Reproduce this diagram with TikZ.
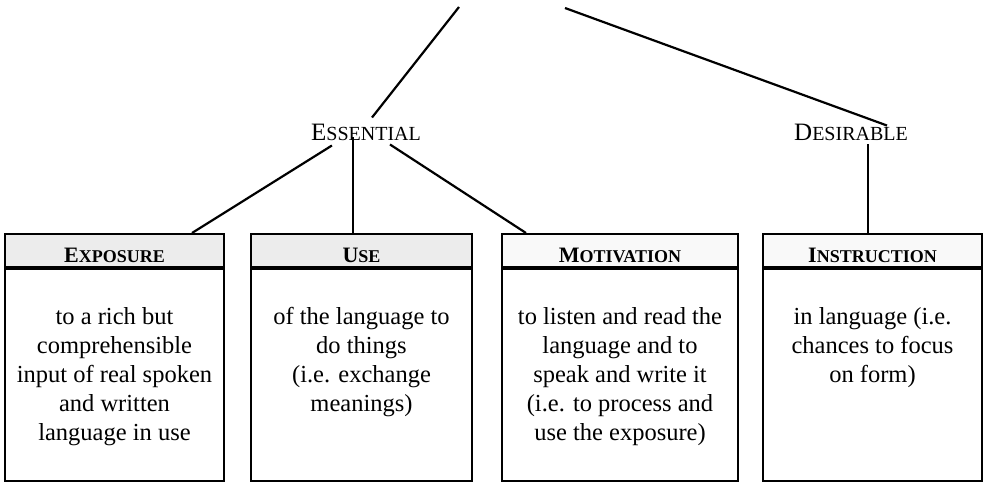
\documentclass[tikz,border=0pt]{standalone}
\usepackage{fontspec}
\setmainfont{Liberation Serif}
\usetikzlibrary{positioning,calc}
\newcommand{\capsc}[4]{{\fontsize{#1}{#1}\selectfont #3}{\fontsize{#2}{#2}\selectfont #4}}

\begin{document}
\begin{tikzpicture}[x=1pt,y=-1pt]
 \tikzset{head node/.style={rectangle, draw, fill=gray!15, line width=2pt,
 		minimum height=33pt, inner sep=0pt, text height=23pt, text depth=0pt,
 		font=\bfseries, text centered}, }
 \tikzset{pale node/.style={head node, fill=gray!5}, }
 \tikzset{body node/.style={rectangle, draw, line width=2pt,
 		minimum height=212pt, inner sep=0pt}, }
 \tikzset{text node/.style={inner sep=0pt, align=center,
 		font=\fontsize{24.5}{29}\selectfont}, }
 \tikzset{kind node/.style={inner sep=0pt}, }
 \tikzset{linea/.style={line width=2.2pt},}
 \useasboundingbox (0,0) rectangle (988,482);
 \coordinate (topl) at (459,7);
 \coordinate (topr) at (565,8);
 \node[kind node] (ess) at (366,132) {\capsc{25}{20}{E}{SSENTIAL}};
 \node[kind node] (des) at (851,132) {\capsc{25}{20}{D}{ESIRABLE}};
 \node[head node, minimum width=219pt] (exphead) at (114.5,250.5) {\capsc{22}{18}{E}{XPOSURE}};
 \node[head node, minimum width=221pt] (usehead) at (361.5,250.5) {\capsc{22}{18}{U}{SE}};
 \node[pale node, minimum width=236pt] (motivhead) at (620,250.5) {\capsc{22}{18}{M}{OTIVATION}};
 \node[pale node, minimum width=219pt] (insthead) at (872.5,250.5) {\capsc{22}{18}{I}{NSTRUCTION}};
 \node[body node, minimum width=219pt, below=0pt of exphead] (expbody) {};
 \node[body node, minimum width=221pt, below=0pt of usehead] (usebody) {};
 \node[body node, minimum width=236pt, below=0pt of motivhead] (motivbody) {};
 \node[body node, minimum width=219pt, below=0pt of insthead] (instbody) {};
 \node[text node, below=39pt of exphead] (exptext) {to a rich but\\comprehensible\\input of real spoken\\and written\\language in use};
 \node[text node, below=39pt of usehead] (usetext) {of the language to\\do things\\(i.e. exchange\\meanings)};
 \node[text node, below=39pt of motivhead] (motivtext) {to listen and read the\\language and to\\speak and write it\\(i.e. to process and\\use the exposure)};
 \node[text node, below=39pt of insthead] (insttext) {in language (i.e.\\chances to focus\\on form)};
 %%
 \draw[linea] (topl) -- ($(ess.north)+(6,-6)$);
 \draw[linea] (topr) -- ($(des.north)+(36,2)$);
 \draw[linea] ($(ess.south west)+(21,5)$) -- ($(exphead.north east)+(-33,0)$);
 \draw[linea] ([xshift=-13pt,yshift=3pt]ess.south) -- ([xshift=-13pt]ess.south |- usehead.north);
 \draw[linea] ($(ess.south)+(24,4)$) -- ($(motivhead.north west)+(25,0)$);
 \draw[linea] ([xshift=17pt,yshift=-4pt]des.south) -- ([xshift=17pt]des.south |- insthead.north);
\end{tikzpicture}
\end{document}
